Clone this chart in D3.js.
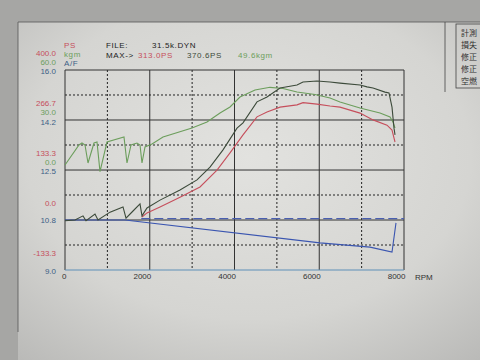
<!DOCTYPE html>
<html>
<head>
<meta charset="utf-8">
<script src="https://cdn.jsdelivr.net/npm/d3@7"></script>
<style>
  body { margin: 0; background: #a6a6a4; }
  svg { display: block; }
</style>
</head>
<body>
<div id="plot1"></div>
<script>
// ---- data ----
// corrected power (dark line), PS
const corrRpm = [0, 236, 425, 496, 708, 779, 1062, 1369, 1440, 1605, 1770, 1817, 1935, 2242, 2714, 3115, 3422, 3729, 4059, 4201, 4531, 4767, 5074, 5475, 5617, 5947, 6254, 6490, 6962, 7127, 7269, 7552, 7646, 7717, 7764, 7788];
const corrPs  = [-2, 0, 11, -2, 16, 0, 21, 35, 5, 24, 43, 11, 32, 53, 80, 107, 141, 187, 245, 259, 315, 328, 352, 360, 368, 370.6, 368, 365, 360, 355, 352, 341, 339, 301, 245, 227];
// measured power (red line), PS
const psRpm = [1817, 1935, 2242, 2714, 3186, 3587, 3894, 4201, 4531, 4767, 5074, 5475, 5617, 5947, 6254, 6490, 6962, 7269, 7599, 7717, 7788];
const psVal = [8, 19, 35, 61, 88, 133, 179, 227, 275, 288, 301, 307, 313, 309, 304, 301, 285, 267, 253, 240, 208];
// torque (green line), kgm
const tqRpm = [0, 330, 401, 472, 543, 684, 755, 826, 991, 1392, 1463, 1558, 1699, 1770, 1817, 1888, 2053, 2313, 2997, 3351, 3658, 3894, 4130, 4484, 4838, 5145, 5475, 5900, 6254, 6490, 6962, 7434, 7670, 7740, 7788];
const tqVal = [3, 15, 16.2, 15, 4.2, 16.2, 16.8, -1, 16.8, 19.8, 4.2, 15, 16.2, 15, 4.2, 13.8, 15.6, 19.8, 25.2, 28.8, 34.2, 37.8, 43.8, 48, 49.6, 48.9, 46.8, 45.3, 43.2, 40.8, 37.2, 34.2, 31.8, 28.8, 25.2];
// air/fuel ratio (blue line) and target (blue dashes)
const afRpm = [0, 1416, 6018, 7198, 7717, 7811];
const afVal = [10.75, 10.75, 9.95, 9.8, 9.63, 10.65];
const targetRpm = [1800, 8000];
const targetAf = [10.8, 10.8];

// tick labels
const rpmTicks = [0, 2000, 4000, 6000, 8000];
const psTicks = [400, 266.7, 133.3, 0, -133.3];
const kgmTicks = [60, 30, 0];
const afTicks = [16, 14.2, 12.5, 10.8, 9.0];
const sideNotes = ["計測", "損失", "修正", "修正", "空燃"];

function plot() {
    const svgwidth = 480, svgheight = 360;
    const plotL = 65, plotR = 404, plotT = 70, plotB = 270;
    const font_family = "Liberation Sans, Arial, sans-serif";
    const font_size = 8;
    const red = "#c64f5c", dark = "#3c4a3a", green = "#6c9e5c", blue = "#3a55b0", labBlue = "#3d5f86";

    let xScale = d3.scaleLinear().domain([0, 8000]).range([plotL, plotR]);
    let yPs = d3.scaleLinear().domain([-133.3, 400]).range([plotB, plotT]);
    let yKgm = d3.scaleLinear().domain([0, 60]).range([170, plotT]);
    let yAf = d3.scaleLinear().domain([9, 16]).range([plotB, plotT]);

    svg = d3.select("#plot1").append("svg")
        .attr("width", svgwidth)
        .attr("height", svgheight);

    // paper background (photo look)
    let defs = svg.append("defs");
    let grad = defs.append("radialGradient").attr("id", "paper")
        .attr("cx", "0.5").attr("cy", "0.4").attr("r", "0.8");
    grad.append("stop").attr("offset", "0").attr("stop-color", "#e2e2df");
    grad.append("stop").attr("offset", "0.6").attr("stop-color", "#d5d5d2");
    grad.append("stop").attr("offset", "1").attr("stop-color", "#b8b8b6");
    svg.append("rect")
        .attr("x", 18).attr("y", 22)
        .attr("width", svgwidth - 18).attr("height", svgheight - 22)
        .style("fill", "url(#paper)");
    svg.append("path") // sheet border, left and top
        .attr("d", "M18,332 L18,22 L480,22")
        .style("fill", "none").style("stroke", "#555").style("stroke-width", 0.8);

    // grid: solid every 2000 rpm / 2 rows, dotted in between
    let grid = svg.append("g").attr("class", "grid");
    [1000, 3000, 5000, 7000].forEach(r => grid.append("line")
        .attr("x1", xScale(r)).attr("x2", xScale(r)).attr("y1", plotT).attr("y2", plotB)
        .style("stroke", "#222").style("stroke-width", 1).style("stroke-dasharray", "2,2"));
    [2000, 4000, 6000].forEach(r => grid.append("line")
        .attr("x1", xScale(r)).attr("x2", xScale(r)).attr("y1", plotT).attr("y2", plotB)
        .style("stroke", "#333").style("stroke-width", 1));
    [333.35, 200, 66.65, -66.65].forEach(p => grid.append("line")
        .attr("x1", plotL).attr("x2", plotR).attr("y1", yPs(p)).attr("y2", yPs(p))
        .style("stroke", "#222").style("stroke-width", 1).style("stroke-dasharray", "2,2"));
    [266.7, 133.3, 0].forEach(p => grid.append("line")
        .attr("x1", plotL).attr("x2", plotR).attr("y1", yPs(p)).attr("y2", yPs(p))
        .style("stroke", "#333").style("stroke-width", 1));
    // frame
    svg.append("path")
        .attr("d", `M${plotL},${plotB} L${plotL},${plotT} L${plotR},${plotT} L${plotR},${plotB}`)
        .style("fill", "none").style("stroke", "#333").style("stroke-width", 1);
    svg.append("line") // bottom axis line is printed in blue
        .attr("x1", plotL).attr("x2", plotR).attr("y1", plotB).attr("y2", plotB)
        .style("stroke", "#5f8fb8").style("stroke-width", 1.2);

    // x axis labels, right aligned to gridlines
    let xAxis = d3.axisBottom(xScale).tickValues(rpmTicks).tickFormat(d3.format("d"))
        .tickSize(0).tickPadding(3);
    let x_ax = svg.append("g").call(xAxis)
        .attr("transform", `translate(0,${plotB})`);
    x_ax.select(".domain").remove();
    x_ax.selectAll("text")
        .attr("text-anchor", "end")
        .attr("dx", "1")
        .style("font-family", font_family)
        .style("font-size", font_size)
        .style("fill", "#333");
    svg.append("text").text("RPM")
        .attr("x", 415).attr("y", 280)
        .style("font-family", font_family).style("font-size", font_size).style("fill", "#333");

    // left labels (three stacked scales)
    let lab = svg.append("g").style("font-family", font_family).style("font-size", font_size)
        .attr("text-anchor", "end").attr("dominant-baseline", "central");
    psTicks.forEach(v => lab.append("text").text(v.toFixed(1))
        .attr("x", 56).attr("y", yPs(v) - 16.5).style("fill", red));
    kgmTicks.forEach(v => lab.append("text").text(v.toFixed(1))
        .attr("x", 56).attr("y", yKgm(v) - 7.5).style("fill", green));
    afTicks.forEach(v => lab.append("text").text(v.toFixed(1))
        .attr("x", 56).attr("y", yAf(v) + 1.5).style("fill", labBlue));

    // header
    let head = svg.append("g").style("font-family", font_family).style("font-size", font_size)
        .attr("dominant-baseline", "central").style("letter-spacing", "0.6px");
    head.append("text").text("PS").attr("x", 64).attr("y", 45).style("fill", red);
    head.append("text").text("kgm").attr("x", 64).attr("y", 54).style("fill", green);
    head.append("text").text("A/F").attr("x", 64).attr("y", 63).style("fill", labBlue);
    head.append("text").text("FILE:").attr("x", 106).attr("y", 45).style("fill", "#222");
    head.append("text").text("31.5k.DYN").attr("x", 152).attr("y", 45).style("fill", "#222");
    head.append("text").text("MAX->").attr("x", 106).attr("y", 55).style("fill", "#222");
    head.append("text").text(d3.max(psVal).toFixed(1) + "PS").attr("x", 138).attr("y", 55).style("fill", red);
    head.append("text").text(d3.max(corrPs).toFixed(1) + "PS").attr("x", 187).attr("y", 55).style("fill", dark);
    head.append("text").text(d3.max(tqVal).toFixed(1) + "kgm").attr("x", 238).attr("y", 55).style("fill", green);

    // side box with notes
    svg.append("line").attr("x1", 445).attr("x2", 445).attr("y1", 22).attr("y2", 92)
        .style("stroke", "#444").style("stroke-width", 0.8);
    svg.append("rect").attr("x", 456).attr("y", 24).attr("width", 40).attr("height", 64)
        .style("fill", "none").style("stroke", "#444").style("stroke-width", 0.8);
    sideNotes.forEach((t, i) => svg.append("text").text(t)
        .attr("x", 461).attr("y", 36 + i * 12)
        .style("font-family", "Noto Sans CJK JP").style("font-size", 8).style("fill", "#333"));

    // curves
    let curves = svg.append("g").attr("class", "curves").style("fill", "none");
    let line = (xs, ys, yS) => d3.line().x((d, i) => xScale(xs[i])).y(d => yS(d))(ys);
    curves.append("path").attr("d", line(targetRpm, targetAf, yAf))
        .style("stroke", "#4a5fb0").style("stroke-width", 1.2).style("stroke-dasharray", "9,4");
    curves.append("path").attr("d", line(afRpm, afVal, yAf))
        .style("stroke", blue).style("stroke-width", 1.1);
    curves.append("path").attr("d", line(tqRpm, tqVal, yKgm))
        .style("stroke", green).style("stroke-width", 1.1);
    curves.append("path").attr("d", line(psRpm, psVal, yPs))
        .style("stroke", red).style("stroke-width", 1.1);
    curves.append("path").attr("d", line(corrRpm, corrPs, yPs))
        .style("stroke", dark).style("stroke-width", 1.1);
}

plot();
</script>
</body>
</html>
